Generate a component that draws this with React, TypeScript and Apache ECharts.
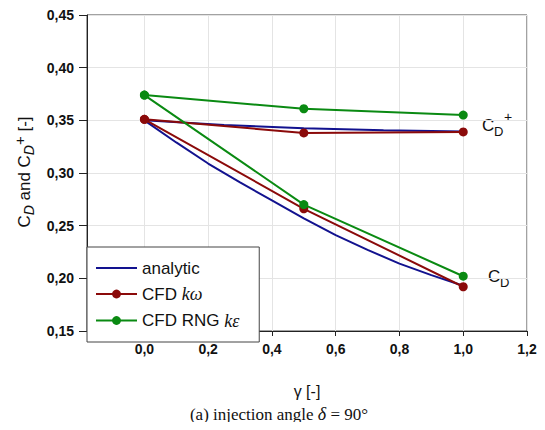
import React, { useEffect, useRef } from "react";
import * as echarts from "echarts";

const xTicks = [0, 0.2, 0.4, 0.6, 0.8, 1.0, 1.2];
const analyticUpper: [number, number][] = [
  [0, 0.35], [0.25, 0.3455], [0.5, 0.3425], [0.75, 0.3405], [1.0, 0.3395],
];
const analyticLower: [number, number][] = [
  [0, 0.35], [0.1, 0.329], [0.2, 0.309], [0.3, 0.291], [0.4, 0.274], [0.5, 0.257],
  [0.6, 0.241], [0.7, 0.227], [0.8, 0.214], [0.9, 0.203], [1.0, 0.193],
];
const kwUpper: [number, number][] = [[0, 0.351], [0.5, 0.338], [1.0, 0.339]];
const kwLower: [number, number][] = [[0, 0.351], [0.5, 0.266], [1.0, 0.192]];
const keUpper: [number, number][] = [[0, 0.374], [0.5, 0.361], [1.0, 0.355]];
const keLower: [number, number][] = [[0, 0.374], [0.5, 0.27], [1.0, 0.202]];

const NAMES = ["analytic", "CFD kω", "CFD RNG kε"];
const COLORS = ["#12128f", "#8b0a0a", "#0a8a12"];
const SANS = "'Liberation Sans', Arial, sans-serif";
const SERIF = "'Liberation Serif', 'Times New Roman', serif";

export default function App() {
  const ref = useRef<HTMLDivElement>(null);
  useEffect(() => {
    if (!ref.current) return;
    const chart = echarts.init(ref.current, null, { renderer: "svg" });
    const lineSeries = (name: string, data: [number, number][], idx: number, sym: boolean) => ({
      type: "line",
      name,
      data,
      smooth: false,
      symbol: sym ? "circle" : "none",
      symbolSize: 9,
      showSymbol: sym,
      lineStyle: { color: COLORS[idx], width: 2 },
      itemStyle: { color: COLORS[idx] },
      z: 2 + idx,
    });
    chart.setOption({
      animation: false,
      backgroundColor: "#ffffff",
      grid: {
        left: 87, top: 15, right: 18, bottom: 99,
        show: true, borderColor: "#444", borderWidth: 1, backgroundColor: "transparent",
      },
      xAxis: {
        type: "value",
        min: -0.18,
        max: 1.2,
        name: "γ [-]",
        nameLocation: "middle",
        nameGap: 52,
        nameTextStyle: { fontFamily: SANS, fontSize: 16, color: "#111" },
        axisLine: { show: true, onZero: false, lineStyle: { color: "#222", width: 1 } },
        axisTick: { show: true, length: 5, customValues: xTicks, lineStyle: { color: "#222" } },
        axisLabel: {
          customValues: xTicks,
          margin: 11,
          fontFamily: SANS, fontSize: 14, fontWeight: "bold", color: "#111",
          formatter: (v: number) => v.toFixed(1).replace(".", ","),
        },
        splitLine: { show: true, lineStyle: { color: "#e4e4e4", width: 1 } },
      },
      yAxis: {
        type: "value",
        min: 0.15,
        max: 0.45,
        interval: 0.05,
        axisLine: { show: true, onZero: false, lineStyle: { color: "#222", width: 1 } },
        axisTick: { show: true, length: 8, lineStyle: { color: "#222" } },
        axisLabel: {
          margin: 13,
          fontFamily: SANS, fontSize: 14, fontWeight: "bold", color: "#111",
          formatter: (v: number) => v.toFixed(2).replace(".", ","),
        },
        splitLine: { show: true, lineStyle: { color: "#e4e4e4", width: 1 } },
      },
      legend: {
        data: [
          { name: NAMES[0], itemStyle: { opacity: 0 } },
          { name: NAMES[1] },
          { name: NAMES[2] },
        ],
        orient: "vertical",
        left: 87,
        top: 247,
        itemWidth: 41,
        itemHeight: 11,
        itemGap: 8.5,
        padding: [12.5, 20, 12.5, 8],
        backgroundColor: "#ffffff",
        borderColor: "#444",
        borderWidth: 1,
        borderRadius: 0,
        textStyle: {
          fontFamily: SANS, fontSize: 17, lineHeight: 14, color: "#111",
          rich: {
            i: { fontFamily: SERIF, fontStyle: "italic", fontSize: 18, lineHeight: 14, color: "#111" },
          },
        },
        formatter: (name: string) => {
          if (name === "CFD kω") return "CFD {i|kω}";
          if (name === "CFD RNG kε") return "CFD RNG {i|kε}";
          return name;
        },
      },
      series: [
        lineSeries(NAMES[0], analyticUpper, 0, false),
        lineSeries(NAMES[0], analyticLower, 0, false),
        lineSeries(NAMES[1], kwUpper, 1, true),
        lineSeries(NAMES[1], kwLower, 1, true),
        lineSeries(NAMES[2], keUpper, 2, true),
        lineSeries(NAMES[2], keLower, 2, true),
      ],
      graphic: [
        // C_D^+ annotation
        { type: "text", x: 482, y: 125, style: { text: "C", font: `17px ${SANS}`, fill: "#111", verticalAlign: "middle" } },
        { type: "text", x: 494, y: 131, style: { text: "D", font: `13px ${SANS}`, fill: "#111", verticalAlign: "middle" } },
        { type: "text", x: 504, y: 117, style: { text: "+", font: `14px ${SANS}`, fill: "#111", verticalAlign: "middle" } },
        // C_D annotation
        { type: "text", x: 488, y: 276, style: { text: "C", font: `17px ${SANS}`, fill: "#111", verticalAlign: "middle" } },
        { type: "text", x: 500, y: 282, style: { text: "D", font: `13px ${SANS}`, fill: "#111", verticalAlign: "middle" } },
        // Y axis title, rotated
        {
          type: "text",
          x: 24,
          y: 172,
          rotation: Math.PI / 2,
          style: {
            text: "{n|C}{s|D}{n| and C}{s|D}{p|+}{n| [-]}",
            align: "center",
            verticalAlign: "middle",
            fill: "#111",
            rich: {
              n: { fontFamily: SANS, fontSize: 17, lineHeight: 24, verticalAlign: "middle", fill: "#111" },
              s: { fontFamily: SANS, fontSize: 14, fontStyle: "italic", lineHeight: 24, verticalAlign: "bottom", fill: "#111" },
              p: { fontFamily: SANS, fontSize: 15, lineHeight: 24, verticalAlign: "top", fill: "#111" },
            },
          },
        },
        // Caption
        {
          type: "text",
          x: 279,
          y: 414,
          style: {
            text: "(a) injection angle {i|δ} = 90°",
            align: "center",
            verticalAlign: "middle",
            font: `17px ${SERIF}`,
            fill: "#111",
            rich: {
              i: { fontFamily: SERIF, fontSize: 18, fontStyle: "italic", fill: "#111" },
            },
          },
        },
      ],
    });
    return () => chart.dispose();
  }, []);
  return <div ref={ref} style={{ width: 545, height: 430, margin: -8 }} />;
}
